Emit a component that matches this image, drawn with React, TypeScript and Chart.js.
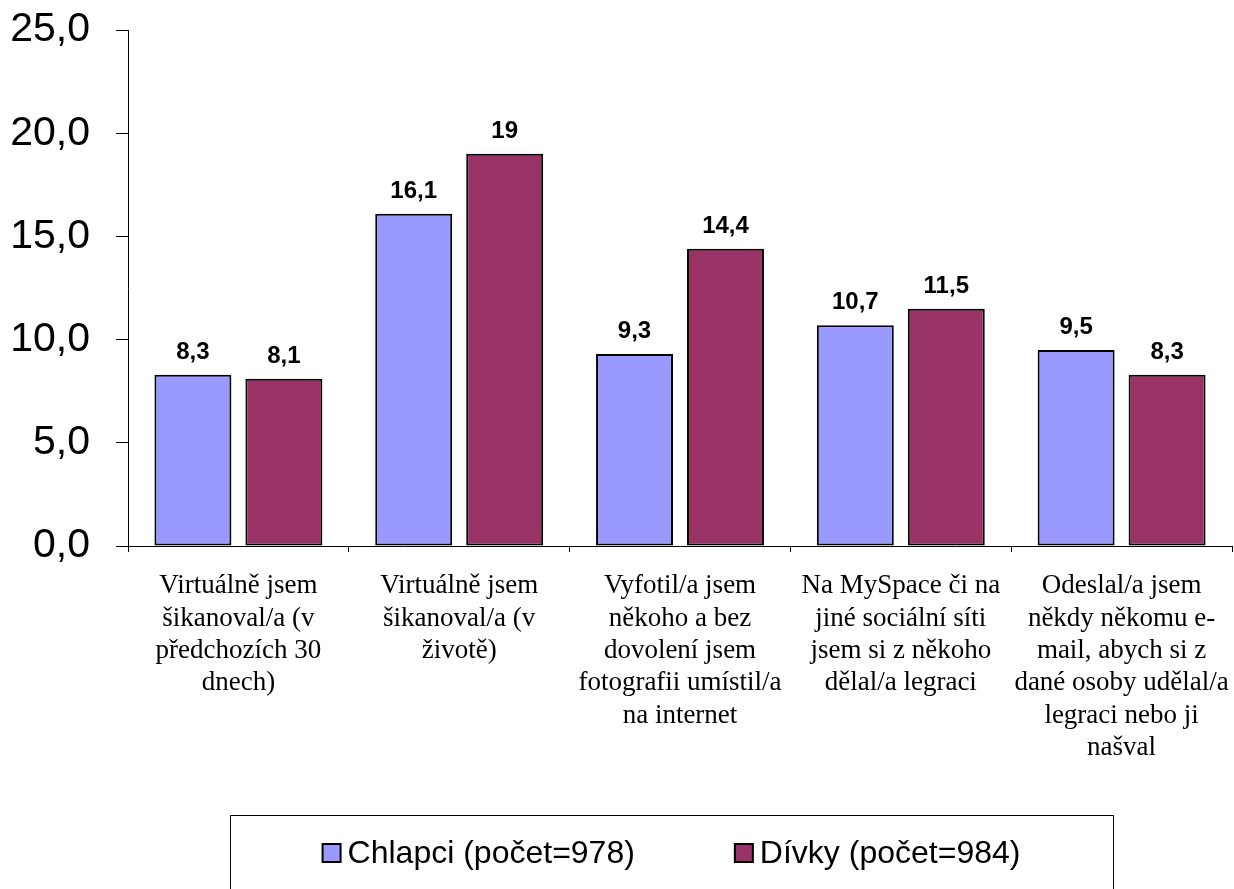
import React, { useEffect, useRef } from "react";
import { Chart, registerables } from "chart.js";

Chart.register(...registerables);

const categories: string[][] = [
  ["Virtuálně jsem", "šikanoval/a (v", "předchozích 30", "dnech)"],
  ["Virtuálně jsem", "šikanoval/a (v", "životě)"],
  ["Vyfotil/a jsem", "někoho a bez", "dovolení jsem", "fotografii umístil/a", "na internet"],
  ["Na MySpace či na", "jiné sociální síti", "jsem si z někoho", "dělal/a legraci"],
  ["Odeslal/a jsem", "někdy někomu e-", "mail, abych si z", "dané osoby udělal/a", "legraci nebo ji", "našval"],
];

const seriesNames = ["Chlapci (počet=978)", "Dívky (počet=984)"];
const chlapci = [8.3, 16.1, 9.3, 10.7, 9.5];
const divky = [8.1, 19, 14.4, 11.5, 8.3];
const yTicks = { min: 0, max: 25, step: 5 };

const fmt = (v: number) => String(v).replace(".", ",");

const valueLabels = {
  id: "valueLabels",
  afterDatasetsDraw(chart: any) {
    const ctx = chart.ctx;
    ctx.save();
    ctx.font = "bold 24px 'Liberation Sans', Arial, sans-serif";
    ctx.fillStyle = "#000";
    ctx.textAlign = "center";
    ctx.textBaseline = "alphabetic";
    chart.data.datasets.forEach((ds: any, i: number) => {
      const meta = chart.getDatasetMeta(i);
      meta.data.forEach((el: any, j: number) => {
        ctx.fillText(fmt(ds.data[j]), el.x, el.y - 16);
      });
    });
    ctx.restore();
  },
};

const boxLegend = {
  id: "boxLegend",
  afterDraw(chart: any) {
    const ctx = chart.ctx;
    const boxL = 230, boxR = 1113, boxT = 815;
    ctx.save();
    ctx.strokeStyle = "#000";
    ctx.lineWidth = 1;
    ctx.strokeRect(boxL + 0.5, boxT + 0.5, boxR - boxL, 120);
    ctx.font = "32px 'Liberation Sans', Arial, sans-serif";
    const sq = 18, gap = 7, itemGap = 100;
    const items = chart.data.datasets.map((ds: any) => ({
      text: ds.label,
      color: ds.backgroundColor,
      w: ctx.measureText(ds.label).width,
    }));
    let total = 0;
    items.forEach((it: any, i: number) => {
      total += sq + gap + it.w + (i > 0 ? itemGap : 0);
    });
    let x = (boxL + boxR) / 2 - total / 2;
    const cy = 853;
    items.forEach((it: any) => {
      ctx.fillStyle = it.color;
      ctx.fillRect(x, cy - sq / 2, sq, sq);
      ctx.strokeStyle = "#000";
      ctx.lineWidth = 2;
      ctx.strokeRect(x, cy - sq / 2, sq, sq);
      ctx.fillStyle = "#000";
      ctx.textAlign = "left";
      ctx.textBaseline = "middle";
      ctx.fillText(it.text, x + sq + gap, cy + 1);
      x += sq + gap + it.w + itemGap;
    });
    ctx.restore();
  },
};

export default function App() {
  const ref = useRef<HTMLCanvasElement | null>(null);
  useEffect(() => {
    if (!ref.current) return;
    Chart.defaults.font.family = "'Liberation Sans', Arial, sans-serif";
    const chart = new Chart(ref.current, {
      type: "bar",
      data: {
        labels: categories,
        datasets: [
          {
            label: seriesNames[0],
            data: chlapci,
            backgroundColor: "#9999FF",
            borderColor: "#000",
            borderWidth: 2,
            borderSkipped: false,
            categoryPercentage: 0.824,
            barPercentage: 0.846,
          },
          {
            label: seriesNames[1],
            data: divky,
            backgroundColor: "#993366",
            borderColor: "#000",
            borderWidth: 2,
            borderSkipped: false,
            categoryPercentage: 0.824,
            barPercentage: 0.846,
          },
        ],
      },
      options: {
        responsive: false,
        animation: false,
        devicePixelRatio: 1,
        layout: { padding: { top: 30, right: 2, left: 0, bottom: 0 } },
        plugins: { legend: { display: false }, tooltip: { enabled: false } },
        scales: {
          x: {
            offset: true,
            grid: {
              offset: true,
              drawOnChartArea: false,
              drawTicks: true,
              tickLength: 6,
              color: "#000",
            },
            border: { display: true, color: "#000", width: 1 },
            ticks: {
              font: { family: "'Liberation Serif', 'Times New Roman', serif", size: 27, lineHeight: 1.2 },
              color: "#000",
              maxRotation: 0,
              minRotation: 0,
              autoSkip: false,
              padding: 18,
            },
            afterFit: (s: any) => {
              s.height = 889 - 546;
              s.paddingLeft = 0;
              s.paddingRight = 0;
            },
          },
          y: {
            min: yTicks.min,
            max: yTicks.max,
            grid: { drawOnChartArea: false, drawTicks: true, tickLength: 12, color: "#000" },
            border: { display: true, color: "#000", width: 1 },
            ticks: {
              stepSize: yTicks.step,
              color: "#000",
              font: { size: 41 },
              padding: 26,
              callback: (v: any) => Number(v).toFixed(1).replace(".", ","),
            },
            afterFit: (s: any) => {
              s.width = 128;
              s.paddingTop = 0;
              s.paddingBottom = 0;
            },
          },
        },
      },
      plugins: [valueLabels, boxLegend],
    } as any);
    return () => chart.destroy();
  }, []);
  return (
    <div style={{ position: "fixed", left: 0, top: 0, width: 1234, height: 889, background: "#fff" }}>
      <canvas ref={ref} width={1234} height={889} style={{ display: "block" }} />
    </div>
  );
}
